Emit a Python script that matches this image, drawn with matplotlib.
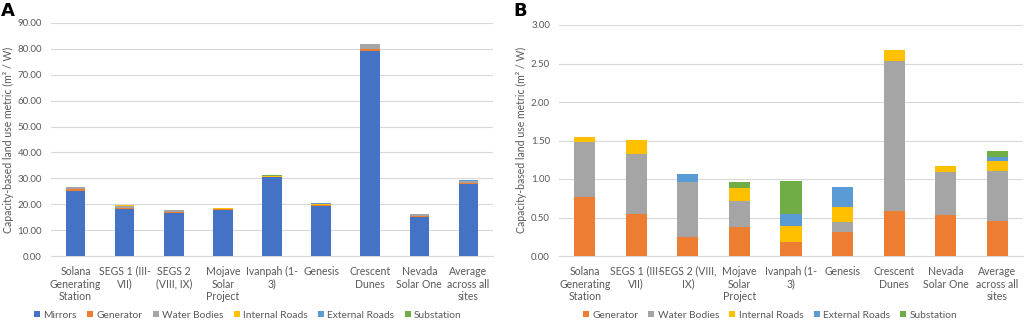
import matplotlib.pyplot as plt
import numpy as np

plt.rcParams["font.family"] = ["Lato", "DejaVu Sans"]

# categories (panel A / panel B differ only in the SEGS 2 line break)
sites_a = ["Solana\nGenerating\nStation", "SEGS 1 (III-\nVII)", "SEGS 2\n(VIII, IX)",
           "Mojave\nSolar\nProject", "Ivanpah (1-\n3)", "Genesis", "Crescent\nDunes",
           "Nevada\nSolar One", "Average\nacross all\nsites"]
sites_b = ["Solana\nGenerating\nStation", "SEGS 1 (III-\nVII)", "SEGS 2 (VIII,\nIX)",
           "Mojave\nSolar\nProject", "Ivanpah (1-\n3)", "Genesis", "Crescent\nDunes",
           "Nevada\nSolar One", "Average\nacross all\nsites"]

# capacity-based land use, m2 / W
mirrors = [25.0, 18.1, 16.7, 17.6, 30.5, 19.4, 79.3, 15.0, 27.9]
generator = [0.76, 0.55, 0.25, 0.38, 0.18, 0.31, 0.58, 0.53, 0.45]
water_bodies = [0.72, 0.78, 0.71, 0.34, 0.00, 0.13, 1.95, 0.56, 0.65]
internal_roads = [0.06, 0.18, 0.00, 0.16, 0.21, 0.19, 0.14, 0.08, 0.13]
external_roads = [0.00, 0.00, 0.10, 0.00, 0.16, 0.26, 0.00, 0.00, 0.06]
substation = [0.00, 0.00, 0.00, 0.08, 0.42, 0.00, 0.00, 0.00, 0.07]

COLORS = {"Mirrors": "#4472C4", "Generator": "#ED7D31", "Water Bodies": "#A5A5A5",
          "Internal Roads": "#FFC000", "External Roads": "#5B9BD5", "Substation": "#70AD47"}
TXT = "#595959"
FS = 7.6

W, H = 1024, 320
fig = plt.figure(figsize=(W / 100, H / 100), dpi=100)


def px_axes(l, r, top, bot):
    return fig.add_axes([l / W, (H - bot) / H, (r - l) / W, (bot - top) / H])


def stacked(ax, names, layers, sites, ymax, step, width):
    x = np.arange(len(sites))
    bottom = np.zeros(len(sites))
    handles = []
    for name, vals in zip(names, layers):
        vals = np.asarray(vals)
        h = ax.bar(x, vals, width, bottom=bottom, color=COLORS[name], label=name, zorder=3)
        handles.append(h)
        bottom += vals
    ax.set_xlim(-0.5, len(sites) - 0.5)
    ax.set_ylim(0, ymax)
    ax.set_yticks(np.arange(0, ymax + step / 2, step))
    ax.yaxis.set_major_formatter(plt.FuncFormatter(lambda v, p: f"{v:.2f}"))
    ax.set_xticks(x)
    ax.set_xticklabels(sites, fontsize=FS, color=TXT, linespacing=1.2)
    ax.tick_params(axis="y", labelsize=7, colors=TXT, length=0, pad=6.5)
    ax.tick_params(axis="x", length=0, pad=7)
    ax.grid(axis="y", color="#D9D9D9", lw=0.8, zorder=0)
    for s in ["top", "right", "left"]:
        ax.spines[s].set_visible(False)
    ax.spines["bottom"].set_color("#D9D9D9")
    return handles


ylab = "Capacity-based land use metric (m² / W)"

ax_a = px_axes(51, 493, 23, 256)
names_a = ["Mirrors", "Generator", "Water Bodies", "Internal Roads", "External Roads", "Substation"]
h_a = stacked(ax_a, names_a, [mirrors, generator, water_bodies, internal_roads, external_roads, substation],
              sites_a, 90, 10, 0.4)
fig.text(8 / W, 1 - 140 / H, ylab, rotation=90, fontsize=FS, color=TXT, ha="center", va="center")

ax_b = px_axes(559, 1023, 25, 256)
names_b = names_a[1:]
h_b = stacked(ax_b, names_b, [generator, water_bodies, internal_roads, external_roads, substation],
              sites_b, 3, 0.5, 0.41)
fig.text(521 / W, 1 - 140 / H, ylab, rotation=90, fontsize=FS, color=TXT, ha="center", va="center")

leg_kw = dict(ncol=6, frameon=False, fontsize=7.4, handlelength=0.6, handleheight=0.6,
              handletextpad=0.3, columnspacing=1.0, labelcolor=TXT, loc="center")
fig.legend(h_a, names_a, bbox_to_anchor=(248 / W, 5 / H), **leg_kw)
fig.legend(h_b, names_b, bbox_to_anchor=(770 / W, 5 / H), **leg_kw)

fig.text(1 / W, 1 - 11 / H, "A", fontsize=13, fontweight="bold", va="center", ha="left",
         family="DejaVu Sans")
fig.text(513 / W, 1 - 11 / H, "B", fontsize=13, fontweight="bold", va="center", ha="left",
         family="DejaVu Sans")

fig.savefig("out.png", dpi=100)
